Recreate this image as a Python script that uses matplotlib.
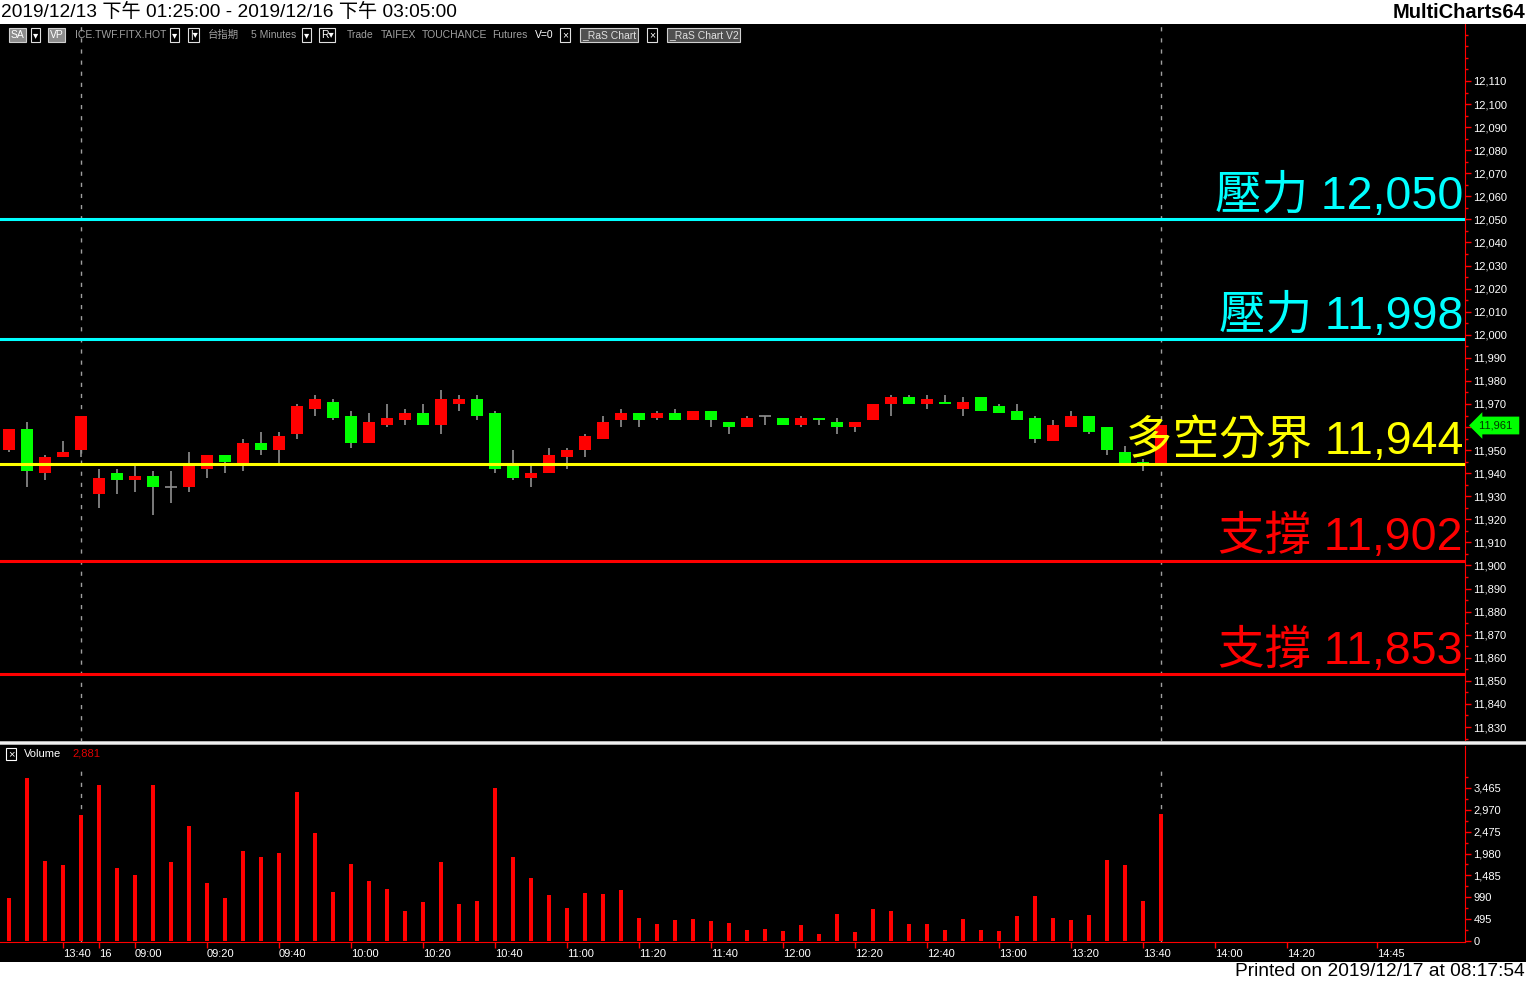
import matplotlib
matplotlib.use('Agg')
import matplotlib.pyplot as plt
from matplotlib.patches import Rectangle
from matplotlib.lines import Line2D
from matplotlib.ticker import FixedLocator, FuncFormatter

FONT = ['Liberation Sans', 'Noto Sans CJK TC', 'DejaVu Sans']
plt.rcParams['font.family'] = FONT

# ---- data (5 minute bars, TAIFEX 台指期) ----
opens = [11950, 11959, 11940, 11947, 11950, 11931, 11940, 11937, 11939, 11934,
         11934, 11942, 11948, 11944, 11953, 11950, 11957, 11968, 11971, 11965,
         11953, 11961, 11963, 11966, 11961, 11970, 11972, 11966, 11943, 11938,
         11940, 11947, 11950, 11955, 11963, 11966, 11964, 11966, 11963, 11967,
         11962, 11960, 11965, 11964, 11961, 11964, 11962, 11960, 11963, 11970,
         11973, 11970, 11971, 11968, 11973, 11969, 11967, 11964, 11954, 11960,
         11965, 11960, 11949, 11945, 11944]
highs = [11959, 11962, 11948, 11954, 11965, 11942, 11942, 11943, 11941, 11941,
         11949, 11948, 11948, 11955, 11958, 11958, 11970, 11974, 11972, 11967,
         11966, 11970, 11968, 11970, 11976, 11974, 11974, 11967, 11950, 11943,
         11951, 11951, 11957, 11965, 11968, 11966, 11967, 11968, 11967, 11967,
         11962, 11965, 11965, 11964, 11965, 11964, 11964, 11962, 11970, 11974,
         11974, 11974, 11974, 11973, 11973, 11970, 11970, 11965, 11963, 11967,
         11965, 11960, 11952, 11946, 11961]
lows = [11949, 11934, 11937, 11947, 11947, 11925, 11931, 11932, 11922, 11927,
        11932, 11938, 11940, 11941, 11948, 11944, 11955, 11965, 11963, 11951,
        11953, 11960, 11961, 11961, 11957, 11967, 11963, 11940, 11937, 11934,
        11940, 11942, 11947, 11955, 11960, 11960, 11963, 11963, 11963, 11960,
        11957, 11960, 11961, 11961, 11960, 11961, 11957, 11958, 11963, 11965,
        11970, 11968, 11970, 11965, 11967, 11966, 11963, 11953, 11954, 11960,
        11957, 11948, 11944, 11941, 11944]
closes = [11959, 11941, 11947, 11949, 11965, 11938, 11937, 11939, 11934, 11934,
          11943, 11948, 11945, 11953, 11950, 11956, 11969, 11972, 11964, 11953,
          11962, 11964, 11966, 11961, 11972, 11972, 11965, 11942, 11938, 11940,
          11948, 11950, 11956, 11962, 11966, 11963, 11966, 11963, 11967, 11963,
          11960, 11964, 11965, 11961, 11964, 11963, 11960, 11962, 11970, 11973,
          11970, 11972, 11970, 11971, 11967, 11966, 11963, 11955, 11961, 11965,
          11958, 11950, 11944, 11944, 11961]
volumes = [974, 3691, 1811, 1721, 2853, 3532, 1653, 1494, 3532, 1789,
           2604, 1313, 974, 2038, 1902, 1993, 3374, 2445, 1109, 1744,
           1359, 1177, 679, 883, 1789, 838, 906, 3465, 1902, 1427,
           1042, 747, 1087, 1064, 1155, 521, 385, 475, 498, 453,
           408, 249, 272, 226, 362, 158, 611, 204, 724, 679,
           385, 385, 249, 498, 249, 226, 566, 1019, 521, 475,
           589, 1834, 1721, 906, 2881]

time_tick_pos = [3, 5, 7, 11, 15, 19, 23, 27, 31, 35, 39, 43, 47, 51, 55, 59, 63, 67, 71, 76]
time_tick_lbl = ['13:40', '16', '09:00', '09:20', '09:40', '10:00', '10:20', '10:40', '11:00',
                 '11:20', '11:40', '12:00', '12:20', '12:40', '13:00', '13:20', '13:40',
                 '14:00', '14:20', '14:45']

levels = [12050, 11998, 11944, 11902, 11853]
level_names = ['壓力', '壓力', '多空分界', '支撐', '支撐']
level_colors = ['#00FFFF', '#00FFFF', '#FFFF00', '#FF0000', '#FF0000']

session_breaks = [4, 64]
last_price = 11961

W, H = 1526, 983


def rect(x0, y0, x1, y1):
    return [x0 / W, 1 - y1 / H, (x1 - x0) / W, (y1 - y0) / H]


def fx(x):
    return x / W


def fy(y):
    return 1 - y / H


fig = plt.figure(figsize=(W / 100, H / 100), dpi=100, facecolor='black')

# header / footer strips
fig.patches.append(Rectangle((0, fy(24)), 1, 24 / H, transform=fig.transFigure,
                             facecolor='white', edgecolor='none', zorder=0))
fig.patches.append(Rectangle((0, 0), 1, 21 / H, transform=fig.transFigure,
                             facecolor='white', edgecolor='none', zorder=0))
fig.text(fx(1), fy(12), '2019/12/13 下午 01:25:00 - 2019/12/16 下午 03:05:00',
         fontsize=13.8, color='black', va='center', ha='left')
fig.text(fx(1525), fy(12), 'MultiCharts64', fontsize=14.5, fontweight='bold',
         color='black', va='center', ha='right')
fig.text(fx(1525), fy(972), 'Printed on 2019/12/17 at 08:17:54', fontsize=13.8,
         color='black', va='center', ha='right')

xmin, xmax = -0.5, (1465 - 9) / 18.0

# ---- price panel ----
ax = fig.add_axes(rect(0, 24, 1465, 742), facecolor='black')
ax.set_xlim(xmin, xmax)
ax.set_ylim(11823.5, 12134.7)
for s in ['top', 'left', 'bottom']:
    ax.spines[s].set_visible(False)
ax.spines['right'].set_color('#FF0000')
ax.set_xticks([])
ax.yaxis.tick_right()
ax.yaxis.set_major_locator(FixedLocator(list(range(11830, 12111, 10))))
ax.yaxis.set_minor_locator(FixedLocator(list(range(11825, 12131, 10)) + [12120, 12130]))
# the 11,960 label sits under the last-price tag
ax.yaxis.set_major_formatter(FuncFormatter(lambda v, p: '' if int(v) == 11960 else f'{int(v):,}'))
ax.tick_params(axis='y', which='major', colors='#FF0000', labelcolor='white',
               labelsize=8, length=4, width=1, pad=2)
ax.tick_params(axis='y', which='minor', colors='#FF0000', length=2.5, width=1)

for x in session_breaks:
    ax.axvline(x, color='#A0A0A0', lw=1, ls=(0, (3, 5)), zorder=1)

for i in range(len(opens)):
    o, h, l, c = opens[i], highs[i], lows[i], closes[i]
    ax.vlines(i, l, h, color='#909090', lw=1.2, zorder=2)
    if c == o:
        ax.hlines(c, i - 0.36, i + 0.36, color='#909090', lw=1.2, zorder=3)
    else:
        col = '#FF0000' if c > o else '#00FF00'
        ax.bar(i, c - o, bottom=o, width=0.72, color=col, edgecolor='none', zorder=3)

for lv, name, col in zip(levels, level_names, level_colors):
    ax.axhline(lv, color=col, lw=2.2, zorder=4)
    ax.annotate(f'{name} {lv:,}', xy=(1.0, lv), xycoords=('axes fraction', 'data'),
                xytext=(-1.5, 7.5), textcoords='offset points', ha='right', va='baseline',
                fontsize=33.5, fontweight='light', color=col, family=FONT, zorder=5)

fig.text(fx(1479), fy(425.5), f'{last_price:,} ', fontsize=8, color='#003300',
         va='center', ha='left', zorder=10,
         bbox=dict(boxstyle='larrow,pad=0.35', fc='#00FF00', ec='none'))

# toolbar row
bar_items = [
    (11, 'SA', 'fill'), (33, '▾', 'box'), (50, 'VP', 'fill'),
    (75, 'ICE.TWF.FITX.HOT', None), (172, '▾', 'box'), (190, '|▾', 'box'),
    (208, '台指期', None), (251, '5 Minutes', None), (304, '▾', 'box'),
    (321, 'R▾', 'box'), (347, 'Trade', None), (381, 'TAIFEX', None),
    (422, 'TOUCHANCE', None), (492, 'Futures', None), (535, 'V=0', 'white'),
    (562, '×', 'box'), (582, '_RaS Chart', 'fill2'), (649, '×', 'box'),
    (669, '_RaS Chart V2', 'fill2'),
]
for x, t, kind in bar_items:
    kw = dict(fontsize=7.5, va='center', ha='left', family=FONT)
    if kind == 'fill':
        fig.text(fx(x), fy(35), t, color='white',
                 bbox=dict(boxstyle='square,pad=0.15', fc='#8C8C8C', ec='#D0D0D0', lw=0.8), **kw)
    elif kind == 'fill2':
        fig.text(fx(x), fy(35), t, color='#E0E0E0',
                 bbox=dict(boxstyle='square,pad=0.15', fc='#505050', ec='#D0D0D0', lw=0.8), **kw)
    elif kind == 'box':
        fig.text(fx(x), fy(35), t, color='white',
                 bbox=dict(boxstyle='square,pad=0.15', fc='black', ec='#E0E0E0', lw=0.8), **kw)
    elif kind == 'white':
        fig.text(fx(x), fy(35), t, color='white', **kw)
    else:
        fig.text(fx(x), fy(35), t, color='#A0A0A0', **kw)

# separator between panels
fig.patches.append(Rectangle((0, fy(745)), 1, 4 / H, transform=fig.transFigure,
                             facecolor='#B0B0B0', edgecolor='none', zorder=5))
fig.add_artist(Line2D([0, 1], [fy(743), fy(743)], transform=fig.transFigure,
                      color='white', lw=1.2, zorder=6))

# ---- volume panel ----
axv = fig.add_axes(rect(0, 746, 1465, 942), facecolor='black')
axv.set_xlim(xmin, xmax)
axv.set_ylim(-22.6, 4416)
for s in ['top', 'left']:
    axv.spines[s].set_visible(False)
axv.spines['right'].set_color('#FF0000')
axv.spines['bottom'].set_color('#FF0000')
axv.yaxis.tick_right()
axv.yaxis.set_major_locator(FixedLocator(list(range(0, 3466, 495))))
axv.yaxis.set_minor_locator(FixedLocator([247.5 + 495 * k for k in range(8)]))
axv.yaxis.set_major_formatter(FuncFormatter(lambda v, p: f'{int(v):,}'))
axv.tick_params(axis='y', which='major', colors='#FF0000', labelcolor='white',
                labelsize=8, length=4, width=1, pad=2)
axv.tick_params(axis='y', which='minor', colors='#FF0000', length=2.5, width=1)
axv.set_xticks(time_tick_pos)
axv.set_xticklabels(time_tick_lbl)
axv.tick_params(axis='x', colors='#FF0000', labelcolor='white', labelsize=8,
                length=4, width=1, pad=1)
for lab in axv.get_xticklabels():
    lab.set_ha('left')

for x in session_breaks:
    axv.axvline(x, ymax=0.9, color='#A0A0A0', lw=1, ls=(0, (3, 5)), zorder=1)
axv.bar(range(len(volumes)), volumes, width=0.17, color='#FF0000', zorder=2)

fig.text(fx(11), fy(754), '×', fontsize=8, color='white', va='center', ha='center',
         bbox=dict(boxstyle='square,pad=0.12', fc='black', ec='white', lw=0.8))
fig.text(fx(24), fy(754), 'Volume', fontsize=8, color='white', va='center', ha='left')
fig.text(fx(72), fy(754), f'{volumes[-1]:,}', fontsize=8, color='#E00000',
         va='center', ha='left')

fig.savefig('out.png', dpi=100, facecolor='black')
